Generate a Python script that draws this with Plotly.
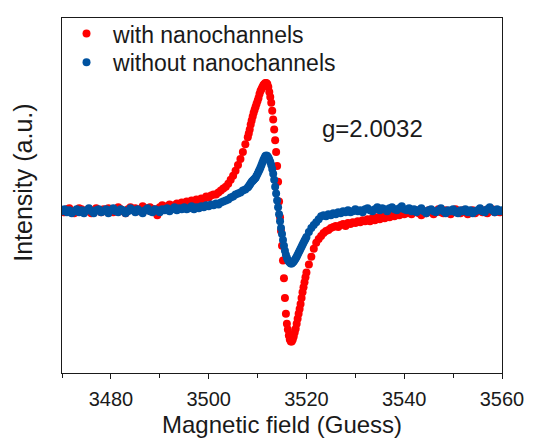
import plotly.graph_objects as go

# Magnetic field values (Gauss)
field_a = [3470.0, 3470.5, 3471.0, 3471.5, 3472.0, 3472.5, 3473.0, 3473.5, 3474.0, 3474.5,
           3475.0, 3475.5, 3476.0, 3476.5, 3477.0, 3477.5, 3478.0, 3478.5, 3479.0, 3479.5,
           3480.0, 3480.5, 3481.0, 3481.5, 3482.0, 3482.5, 3483.0, 3483.5, 3484.0, 3484.5,
           3485.0, 3485.5, 3486.0, 3486.5, 3487.0, 3487.5, 3488.0, 3488.5, 3489.0, 3489.5,
           3490.0, 3490.5, 3491.0, 3491.5, 3492.0, 3492.5, 3493.0, 3493.5, 3494.0, 3494.5,
           3495.0, 3495.5, 3496.0, 3496.5, 3497.0, 3497.5, 3498.0, 3498.5, 3499.0, 3499.5,
           3500.0, 3500.5, 3501.0, 3501.5, 3502.0, 3502.5, 3503.0, 3503.5, 3504.0, 3504.5,
           3505.0, 3505.5, 3506.0, 3506.5, 3507.0, 3507.5]
field_b = [3508.0, 3508.2, 3508.4, 3508.6, 3508.8, 3509.0, 3509.2, 3509.4, 3509.6, 3509.8,
           3510.0, 3510.2, 3510.4, 3510.6, 3510.8, 3511.0, 3511.2, 3511.4, 3511.6, 3511.8,
           3512.0, 3512.2, 3512.4, 3512.6, 3512.8, 3513.0, 3513.2, 3513.4, 3513.6, 3513.8,
           3514.0, 3514.2, 3514.4, 3514.6, 3514.8, 3515.0, 3515.2, 3515.4, 3515.6, 3515.8,
           3516.0, 3516.2, 3516.4, 3516.6, 3516.8, 3517.0, 3517.2, 3517.4, 3517.6, 3517.8,
           3518.0, 3518.2, 3518.4, 3518.6, 3518.8, 3519.0, 3519.2, 3519.4, 3519.6, 3519.8,
           3520.0]
field_c = [3520.5, 3521.0, 3521.5, 3522.0, 3522.5, 3523.0, 3523.5, 3524.0, 3524.5,
           3525.0, 3525.5, 3526.0, 3526.5, 3527.0, 3527.5, 3528.0, 3528.5, 3529.0, 3529.5,
           3530.0, 3530.5, 3531.0, 3531.5, 3532.0, 3532.5, 3533.0, 3533.5, 3534.0, 3534.5,
           3535.0, 3535.5, 3536.0, 3536.5, 3537.0, 3537.5, 3538.0, 3538.5, 3539.0, 3539.5,
           3540.0, 3540.5, 3541.0, 3541.5, 3542.0, 3542.5, 3543.0, 3543.5, 3544.0, 3544.5,
           3545.0, 3545.5, 3546.0, 3546.5, 3547.0, 3547.5, 3548.0, 3548.5, 3549.0, 3549.5,
           3550.0, 3550.5, 3551.0, 3551.5, 3552.0, 3552.5, 3553.0, 3553.5, 3554.0, 3554.5,
           3555.0, 3555.5, 3556.0, 3556.5, 3557.0, 3557.5, 3558.0, 3558.5, 3559.0, 3559.5,
           3560.0]

# Intensity, with nanochannels (a.u.)
with_a = [1, -1, 2, 3, 0, -2, 1, 3, 2, -1,
          0, 2, -2, 1, 3, 1, -1, 2, 0, 3,
          2, -1, 1, 4, 2, 0, -2, 2, 4, 1,
          3, 0, 2, 5, 3, 1, 4, 2, 2, -4,
          4, 6, 3, 5, 7, 4, 6, 8, 6, 9,
          7, 10, 8, 11, 10, 12, 11, 13, 12, 15,
          14, 16, 17, 17, 19, 21, 23, 25, 28, 32,
          36, 41, 47, 53, 60, 68]
with_b = [75, 79, 83, 88, 92, 96, 100, 103, 106, 109,
          112, 115, 119, 122, 124, 126, 128, 129, 130, 130,
          129, 126, 121, 116, 110, 102, 93, 83, 72, 60,
          46, 30, 10, -6, -20, -35, -50, -68, -88, -104,
          -114, -120, -126, -130, -132, -132, -130, -127, -123, -119,
          -114, -109, -104, -99, -94, -88, -82, -77, -72, -67,
          -62]
with_c = [-54, -46, -38, -32, -28, -25, -22, -20, -19,
          -17, -16, -15, -16, -14, -13, -15, -12, -13, -11,
          -12, -10, -11, -9, -10, -8, -10, -7, -9, -6,
          -8, -5, -7, -4, -6, -3, -5, -2, -4, -1,
          -3, -2, 0, -3, -1, 1, -2, -4, 0, -2,
          1, -1, -3, 0, 2, -1, -2, 1, -1, -3,
          0, 2, -1, -2, 1, -1, -3, 0, 1, -2,
          0, 2, -1, 1, -2, 0, 2, -1, 1, -1,
          0]

# Intensity, without nanochannels (a.u.)
without_a = [0, 2, -1, 1, -2, 0, 2, -1, 1, -2,
             1, 3, 0, -2, 1, 2, -1, 0, 2, -2,
             1, 3, 0, -1, 2, 1, -2, 0, 3, 1,
             -1, 2, 0, -2, 1, 3, 0, -1, 2, 1,
             -1, 2, 1, 3, 0, 2, 4, 1, 3, 2,
             4, 2, 3, 5, 2, 4, 3, 5, 4, 6,
             5, 7, 6, 8, 7, 9, 10, 11, 12, 14,
             15, 17, 18, 19, 21, 22]
without_b = [24, 25.5, 27, 28.5, 30, 31, 32, 33, 34, 36,
             38, 40, 42, 44.5, 47, 49.5, 52, 54, 56, 56.5,
             56, 54.5, 52.5, 50, 47, 43, 38, 32, 25, 18,
             11, 4, -3, -10, -17, -23, -29, -35, -40, -44,
             -47, -49.5, -51, -52, -53, -53, -52, -51, -49.5, -48,
             -46, -44, -42, -40, -38, -36, -34, -32, -30, -28,
             -26]
without_c = [-21, -17, -14, -11, -8, -5, -4, -5, -3,
             -4, -2, -3, -1, -2, 0, -1, 1, -1, 0,
             2, 0, 1, -1, 2, 3, 1, 0, 2, 4,
             1, 3, 2, 0, 3, 4, 2, 1, 3, 5,
             2, 1, 3, 0, 2, -1, 1, 3, 0, -2,
             1, 2, 0, -1, 1, 3, 0, -2, 1, 0,
             2, -1, -2, 1, 0, 2, -1, 1, -2, 0,
             1, 3, 0, -1, 2, 4, 1, -1, 2, 0,
             1]

field = field_a + field_b + field_c
with_nc = with_a + with_b + with_c
without_nc = without_a + without_b + without_c
assert len(field) == len(with_nc) == len(without_nc)

x_ticks = [3480, 3500, 3520, 3540, 3560]

FONT = "Liberation Sans, Arial, sans-serif"
INK = "#1a1a1a"

fig = go.Figure()
fig.add_trace(go.Scatter(x=field, y=with_nc, mode="markers", name="with nanochannels",
                         legend="legend",
                         marker=dict(color="#ff0000", size=8, line=dict(width=0))))
fig.add_trace(go.Scatter(x=field, y=without_nc, mode="markers", name="without nanochannels",
                         legend="legend2",
                         marker=dict(color="#0052a0", size=8, line=dict(width=0))))

leg_common = dict(xanchor="left", yanchor="top", bgcolor="rgba(0,0,0,0)",
                  font=dict(size=23, family=FONT, color=INK), itemwidth=43, borderwidth=0)

fig.update_layout(
    width=536, height=441,
    margin=dict(l=62, r=27, t=13, b=68),
    paper_bgcolor="white", plot_bgcolor="white",
    font=dict(family=FONT, color=INK),
    showlegend=True,
    legend=dict(x=-0.0045, y=1.0166, **leg_common),
    legend2=dict(x=-0.0045, y=0.936, **leg_common),
    xaxis=dict(range=[3470, 3560], tickvals=x_ticks, ticks="outside", ticklen=5,
               tickwidth=1.2, tickcolor=INK, ticklabelstandoff=3,
               minor=dict(dtick=10, tick0=3470, ticks="outside", ticklen=4, tickwidth=1.2,
                          tickcolor=INK, showgrid=False),
               showline=True, linecolor=INK, linewidth=1.3, mirror=True,
               showgrid=False, zeroline=False,
               tickfont=dict(size=20, family=FONT, color=INK)),
    yaxis=dict(range=[-164, 196], showticklabels=False, ticks="", showline=True,
               linecolor=INK, linewidth=1.3, mirror=True, showgrid=False, zeroline=False),
    annotations=[
        dict(text="Magnetic field (Guess)", xref="paper", yref="paper", x=0.5, y=-0.145,
             xanchor="center", yanchor="middle", showarrow=False,
             font=dict(size=24, family=FONT, color=INK)),
        dict(text="Intensity (a.u.)", xref="paper", yref="paper", x=-0.0893, y=0.535,
             xanchor="center", yanchor="middle", textangle=-90, showarrow=False,
             font=dict(size=25, family=FONT, color=INK)),
        dict(text="g=2.0032", xref="paper", yref="paper", x=0.587, y=0.69,
             xanchor="left", yanchor="middle", showarrow=False,
             font=dict(size=24, family=FONT, color=INK)),
    ],
)

fig.write_html("out.html")
